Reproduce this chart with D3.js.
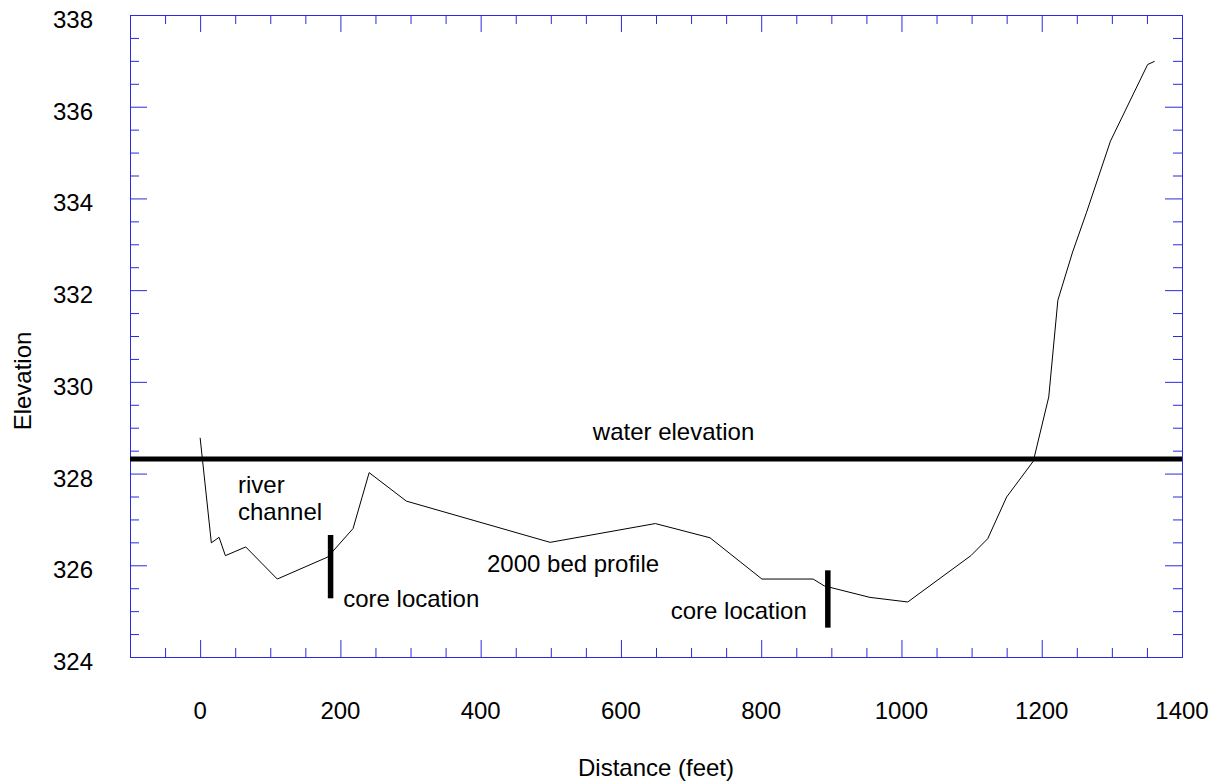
<!DOCTYPE html>
<html>
<head>
<meta charset="utf-8">
<script src="https://cdn.jsdelivr.net/npm/d3@7"></script>
<style>
  body { margin: 0; background: #fff; }
  text { font-family: "Liberation Sans", Arial, sans-serif; fill: #000; }
</style>
</head>
<body>
<div id="chart"></div>
<script>
// bed profile (distance in feet, elevation)
var distance  = [0, 16, 27, 36, 65, 110, 182, 218, 241, 294, 499, 649, 727, 801, 874, 890, 955, 1009, 1099, 1123, 1150, 1188, 1210, 1223, 1244, 1264, 1298, 1351, 1361];
var elevation = [328.78, 326.49, 326.61, 326.21, 326.40, 325.70, 326.18, 326.80, 328.02, 327.40, 326.50, 326.91, 326.60, 325.70, 325.70, 325.55, 325.30, 325.20, 326.21, 326.58, 327.49, 328.27, 329.67, 331.78, 332.83, 333.70, 335.25, 336.92, 336.99];

var waterElevation = 328.32;

// core location bars
var coreDistance = [186, 895];
var coreTop      = [326.66, 325.89];
var coreBottom   = [325.28, 324.64];

// axis ticks
var xMajorTicks = [-100, 0, 200, 400, 600, 800, 1000, 1200, 1400];
var xTickLabels = [0, 200, 400, 600, 800, 1000, 1200, 1400];
var yMajorTicks = [324, 326, 328, 330, 332, 334, 336, 338];

// annotations [text, distance, elevation, anchor]
var noteText   = ["water elevation", "river", "channel", "2000 bed profile", "core location", "core location"];
var noteX      = [675, 54, 54, 409, 204, 865];
var noteY      = [328.73, 327.57, 326.98, 325.86, 325.09, 324.82];
var noteAnchor = ["middle", "start", "start", "start", "start", "end"];

var width = 1224, height = 782;
var margin = {top: 15, right: 42, bottom: 125, left: 130};
var axisColour = "#2a2ae0";

var svg = d3.select("#chart")
    .append("svg")
    .attr("width", width)
    .attr("height", height);

var x = d3.scaleLinear().domain([-100, 1400]).range([margin.left, width - margin.right]);
var y = d3.scaleLinear().domain([324, 338]).range([height - margin.bottom, margin.top]);

var xMinor = d3.range(-100, 1401, 50).filter(function(d) { return xMajorTicks.indexOf(d) < 0; });
var yMinor = d3.range(324, 338.01, 0.5).filter(function(d) { return yMajorTicks.indexOf(d) < 0; });

function styleAxis(g) {
  g.select(".domain").attr("stroke", axisColour);
  g.selectAll(".tick line").attr("stroke", axisColour);
}

// bottom / top / left / right, ticks pointing inward
function drawAxes(maker, pos, major, minor, majorLen, minorLen) {
  svg.append("g").attr("transform", pos)
    .call(maker.tickValues(minor).tickSizeInner(-minorLen).tickSizeOuter(0).tickFormat(""))
    .call(styleAxis);
  svg.append("g").attr("transform", pos)
    .call(maker.tickValues(major).tickSizeInner(-majorLen).tickSizeOuter(0).tickFormat(""))
    .call(styleAxis);
}

drawAxes(d3.axisBottom(x), "translate(0," + y(324) + ")", xMajorTicks, xMinor, 17, 9);
drawAxes(d3.axisTop(x), "translate(0," + y(338) + ")", xMajorTicks, xMinor, 17, 9);
drawAxes(d3.axisLeft(y), "translate(" + x(-100) + ",0)", yMajorTicks, yMinor, 17, 9);
drawAxes(d3.axisRight(y), "translate(" + x(1400) + ",0)", yMajorTicks, yMinor, 17, 9);

// tick labels
svg.append("g").attr("class", "xlabels")
  .selectAll("text")
  .data(xTickLabels)
  .enter()
  .append("text")
  .attr("x", function(d) { return x(d); })
  .attr("y", y(324) + 62)
  .attr("text-anchor", "middle")
  .style("font-size", "24px")
  .text(function(d) { return d; });

svg.append("g").attr("class", "ylabels")
  .selectAll("text")
  .data(yMajorTicks)
  .enter()
  .append("text")
  .attr("x", x(-100) - 37)
  .attr("y", function(d) { return y(d) + 13; })
  .attr("text-anchor", "end")
  .style("font-size", "24px")
  .text(function(d) { return d; });

// axis titles
svg.append("text")
  .attr("x", (x(-100) + x(1400)) / 2)
  .attr("y", 776)
  .attr("text-anchor", "middle")
  .style("font-size", "24px")
  .text("Distance (feet)");

svg.append("text")
  .attr("transform", "translate(31,381) rotate(-90)")
  .attr("text-anchor", "middle")
  .style("font-size", "24px")
  .text("Elevation");

// water elevation
svg.append("line")
  .attr("x1", x(-100))
  .attr("x2", x(1400))
  .attr("y1", y(waterElevation))
  .attr("y2", y(waterElevation))
  .attr("stroke", "#000")
  .attr("stroke-width", 5);

// bed profile
var line = d3.line()
  .x(function(d, i) { return x(distance[i]); })
  .y(function(d) { return y(d); });

svg.append("path")
  .datum(elevation)
  .attr("d", line)
  .attr("fill", "none")
  .attr("stroke", "#000")
  .attr("stroke-width", 1);

// core locations
svg.selectAll(".core")
  .data(coreDistance)
  .enter()
  .append("line")
  .attr("class", "core")
  .attr("x1", function(d) { return x(d); })
  .attr("x2", function(d) { return x(d); })
  .attr("y1", function(d, i) { return y(coreTop[i]); })
  .attr("y2", function(d, i) { return y(coreBottom[i]); })
  .attr("stroke", "#000")
  .attr("stroke-width", 5.5);

// annotations
svg.selectAll(".note")
  .data(noteText)
  .enter()
  .append("text")
  .attr("class", "note")
  .attr("x", function(d, i) { return x(noteX[i]); })
  .attr("y", function(d, i) { return y(noteY[i]); })
  .attr("text-anchor", function(d, i) { return noteAnchor[i]; })
  .style("font-size", "24px")
  .text(function(d) { return d; });
</script>
</body>
</html>
